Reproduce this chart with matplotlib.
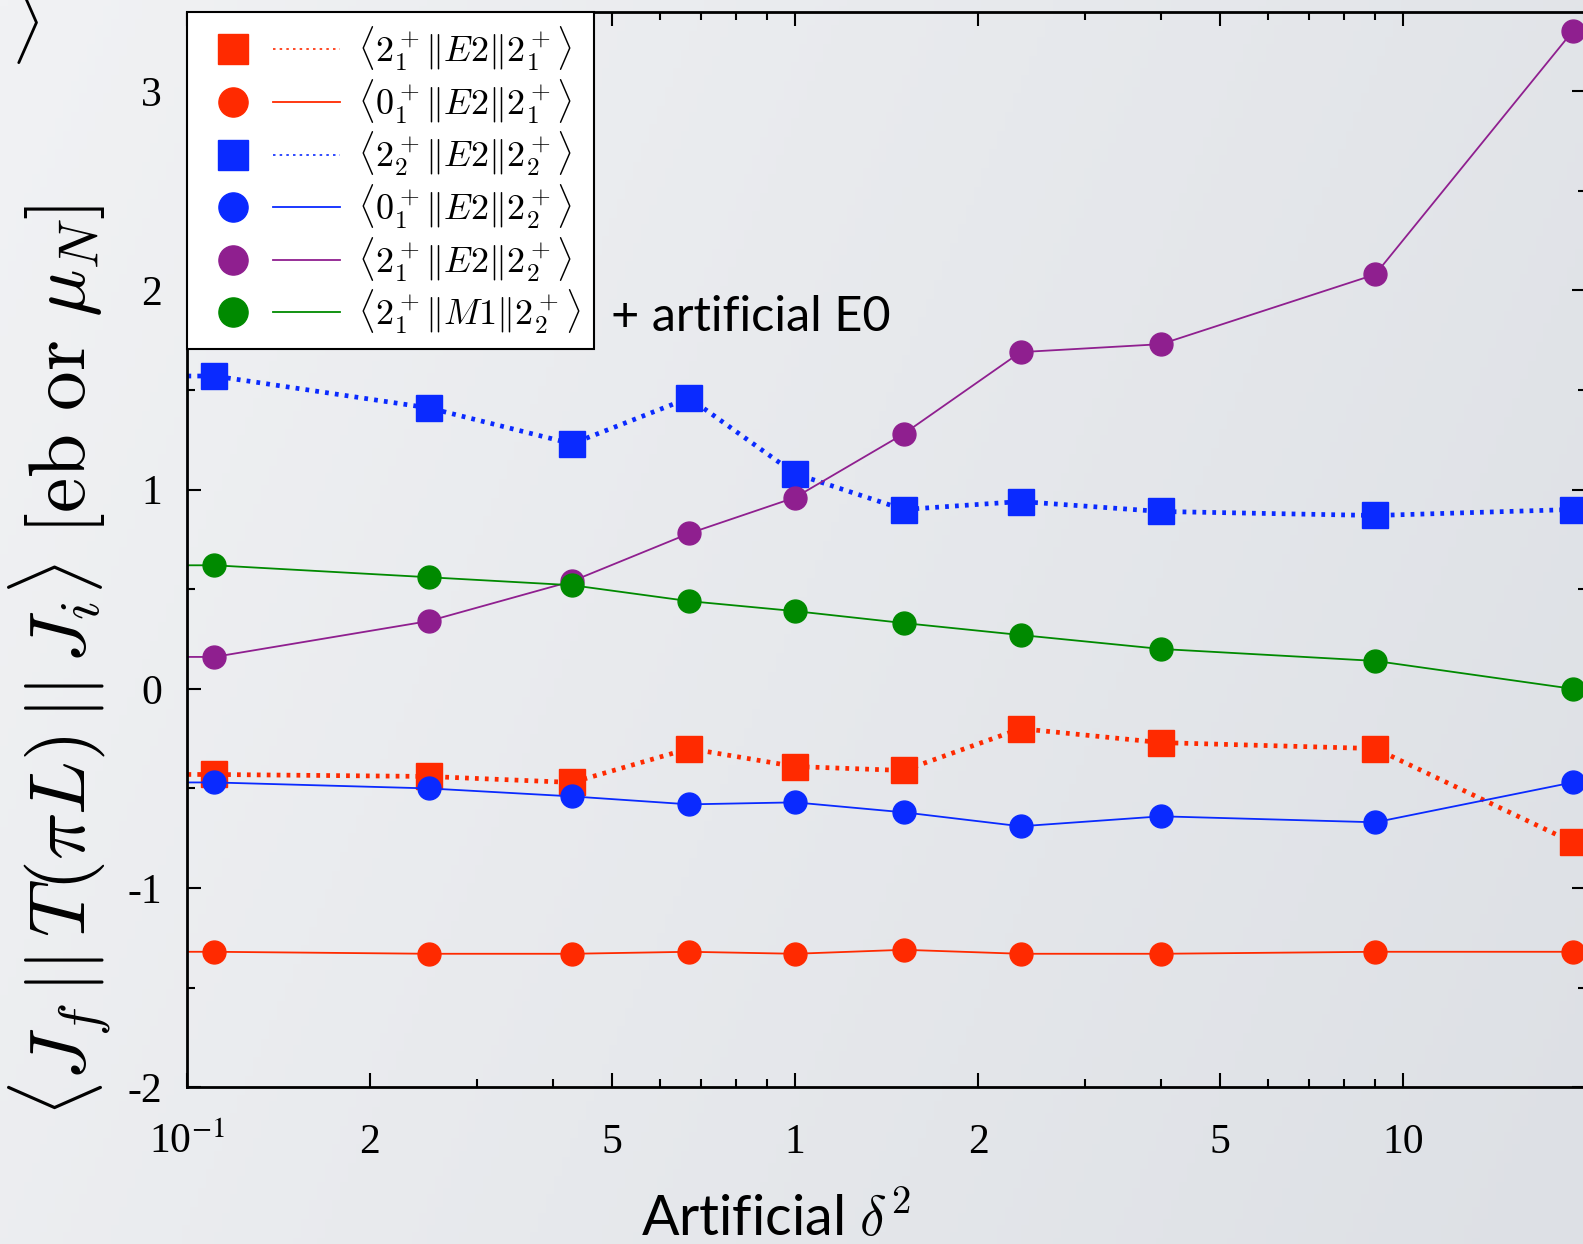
import numpy as np
import matplotlib
matplotlib.use("Agg")
import matplotlib.pyplot as plt
from matplotlib.lines import Line2D
from matplotlib.legend_handler import HandlerTuple
from matplotlib.font_manager import FontProperties

plt.rcParams['font.family'] = 'Liberation Serif'
plt.rcParams['mathtext.fontset'] = 'stix'

# artificial delta^2 (first entry sits left of the axis, lines run in from there)
delta2 = [0.01, 0.111, 0.25, 0.43, 0.67, 1.0, 1.51, 2.35, 4.0, 9.0, 19.0]

e2_21_21 = [-0.43, -0.43, -0.44, -0.47, -0.30, -0.39, -0.41, -0.20, -0.27, -0.30, -0.77]
e2_01_21 = [-1.32, -1.32, -1.33, -1.33, -1.32, -1.33, -1.31, -1.33, -1.33, -1.32, -1.32]
e2_22_22 = [1.57, 1.57, 1.41, 1.23, 1.46, 1.08, 0.90, 0.94, 0.89, 0.87, 0.90]
e2_01_22 = [-0.47, -0.47, -0.50, -0.54, -0.58, -0.57, -0.62, -0.69, -0.64, -0.67, -0.47]
e2_21_22 = [0.16, 0.16, 0.34, 0.54, 0.78, 0.96, 1.28, 1.69, 1.73, 2.08, 3.30]
m1_21_22 = [0.62, 0.62, 0.56, 0.52, 0.44, 0.39, 0.33, 0.27, 0.20, 0.14, 0.00]

labels = [r"$\langle 2_1^+\Vert E2\Vert 2_1^+\rangle$",
          r"$\langle 0_1^+\Vert E2\Vert 2_1^+\rangle$",
          r"$\langle 2_2^+\Vert E2\Vert 2_2^+\rangle$",
          r"$\langle 0_1^+\Vert E2\Vert 2_2^+\rangle$",
          r"$\langle 2_1^+\Vert E2\Vert 2_2^+\rangle$",
          r"$\langle 2_1^+\Vert M1\Vert 2_2^+\rangle$"]

red = '#ff2a00'
blue = '#0a2aff'
purple = '#8f1f8f'
green = '#008a00'

series = [(e2_21_21, red, 's', 'dotted'),
          (e2_01_21, red, 'o', 'solid'),
          (e2_22_22, blue, 's', 'dotted'),
          (e2_01_22, blue, 'o', 'solid'),
          (e2_21_22, purple, 'o', 'solid'),
          (m1_21_22, green, 'o', 'solid')]

fig = plt.figure(figsize=(15.83, 12.44), dpi=100)

# slide background gradient
bg = fig.add_axes([0, 0, 1, 1], zorder=-10)
gx = np.linspace(0, 1, 200)
gy = np.linspace(0, 1, 200)
GX, GY = np.meshgrid(gx, gy)
t = np.clip(0.75 * GX + 0.25 * GY, 0, 1)
c0 = np.array([241, 242, 244]) / 255
c1 = np.array([221, 224, 229]) / 255
img = c0[None, None, :] * (1 - t[..., None]) + c1[None, None, :] * t[..., None]
bg.imshow(img, aspect='auto', extent=[0, 1, 0, 1])
bg.axis('off')

ax = fig.add_axes([0.118, 0.126, 0.884, 0.864])
ax.set_facecolor('none')

handles = []
for (vals, col, mk, ls) in series:
    if ls == 'dotted':
        ax.plot(delta2, vals, color=col, lw=3.4, linestyle=(0, (0.8, 1.3)),
                marker=mk, ms=19, mec=col, mfc=col)
        lh = Line2D([], [], color=col, lw=1.2, linestyle=(0, (1.5, 2.5)))
    else:
        ax.plot(delta2, vals, color=col, lw=1.3, marker=mk, ms=16.5, mec=col, mfc=col)
        lh = Line2D([], [], color=col, lw=1.3)
    mh = Line2D([], [], color=col, lw=0, marker=mk, ms=21, mec=col, mfc=col)
    handles.append((mh, lh))

ax.set_xscale('log')
ax.set_xlim(0.1, 20)
ax.set_ylim(-2, 3.395)

ax.set_xticks([0.1, 0.2, 0.5, 1, 2, 5, 10])
ax.set_xticklabels([r"10$^{-1}$", "2", "5", "1", "2", "5", "10"])
ax.set_xticks([0.3, 0.4, 0.6, 0.7, 0.8, 0.9, 3, 4, 6, 7, 8, 9, 20], minor=True)
ax.set_xticklabels([], minor=True)
ax.set_yticks([-2, -1, 0, 1, 2, 3])
ax.set_yticklabels(['-2', '-1', '0', '1', '2', '3'])
ax.set_yticks([-1.5, -0.5, 0.5, 1.5, 2.5], minor=True)

ax.tick_params(which='both', direction='in', top=True, right=True, labelsize=30, width=1.5)
ax.tick_params(which='major', length=10)
ax.tick_params(which='minor', length=6)
ax.tick_params(axis='x', which='major', pad=26)
ax.tick_params(axis='y', which='major', pad=18)
for s in ax.spines.values():
    s.set_linewidth(2)

leg_prop = FontProperties(size=26)
leg_prop.set_math_fontfamily('cm')
leg = ax.legend(handles, labels, loc='upper left', bbox_to_anchor=(0, 1),
                borderaxespad=0, prop=leg_prop, handlelength=3.9, handletextpad=0.5,
                labelspacing=0.12, borderpad=0.35,
                handler_map={tuple: HandlerTuple(ndivide=None, pad=0.2)},
                fancybox=False, framealpha=1, edgecolor='black')
leg.get_frame().set_linewidth(1.5)

fig.text(0.386, 0.745, "+ artificial E0", family='Lato', fontsize=35,
         ha='left', va='center')

fig.text(0.49, 0.02, r"Artificial $\delta^2$", family='Lato', fontsize=40,
         math_fontfamily='cm', ha='center', va='center')

fig.text(0.038, 0.469,
         r"$\langle J_f\,||\,T(\pi L)\,||\,J_i\rangle\ [\mathrm{eb\ or}\ \mu_N]$",
         fontsize=57, math_fontfamily='cm', rotation=90, ha='center', va='center')

fig.text(0.016, 0.982, r"$\rangle$", fontsize=50, math_fontfamily='cm',
         ha='center', va='center')

fig.savefig('out.png', dpi=100)
